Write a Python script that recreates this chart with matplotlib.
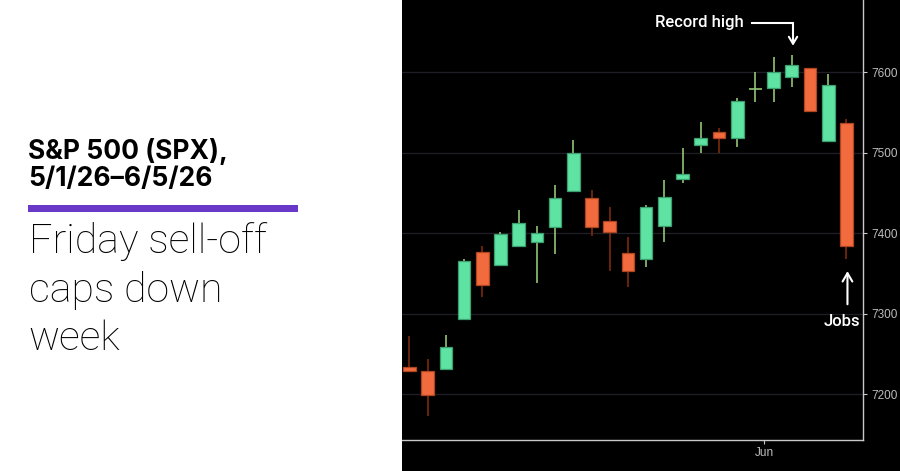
import matplotlib
matplotlib.use("Agg")
import matplotlib.pyplot as plt
from matplotlib.patches import Rectangle

# ---- data ----
dates = ["5/1", "5/4", "5/5", "5/6", "5/7", "5/8", "5/11", "5/12", "5/13", "5/14",
         "5/15", "5/18", "5/19", "5/20", "5/21", "5/22", "5/26", "5/27", "5/28", "5/29",
         "6/1", "6/2", "6/3", "6/4", "6/5"]
opens = [7234.3, 7228.6, 7231.8, 7293.2, 7376.8, 7361.0, 7384.6, 7389.6, 7407.8, 7452.9,
         7443.9, 7414.9, 7375.5, 7367.7, 7409.0, 7467.5, 7510.0, 7525.5, 7518.8, 7579.3,
         7580.9, 7594.5, 7605.0, 7515.0, 7537.0]
closes = [7228.6, 7199.1, 7258.7, 7365.2, 7335.8, 7399.1, 7412.4, 7400.4, 7443.9, 7500.1,
          7407.8, 7402.0, 7353.2, 7433.0, 7445.1, 7473.7, 7518.4, 7518.8, 7564.0, 7579.3,
          7600.4, 7609.0, 7551.6, 7584.2, 7383.9]
highs = [7272.4, 7243.8, 7273.6, 7368.0, 7384.2, 7401.6, 7428.6, 7409.0, 7460.0, 7515.9,
         7453.8, 7433.0, 7395.4, 7435.2, 7466.2, 7506.3, 7538.3, 7530.4, 7568.0, 7600.0,
         7618.9, 7621.4, 7605.0, 7598.3, 7542.0]
lows = [7227.5, 7173.4, 7231.0, 7292.5, 7321.2, 7360.5, 7384.0, 7338.6, 7374.7, 7452.0,
        7397.0, 7353.2, 7333.7, 7358.1, 7389.6, 7462.9, 7499.8, 7499.4, 7507.6, 7563.5,
        7562.7, 7582.0, 7550.3, 7515.0, 7367.7]
yticks = [7200, 7300, 7400, 7500, 7600]
month_label = "Jun"

title_lines = ["S&P 500 (SPX),", "5/1/26\u20136/5/26"]
headline_lines = ["Friday sell-off", "caps down", "week"]

# ---- styling ----
W, H = 900, 471
GREEN = "#5ee3a3"
GREEN_EDGE = "#3c9f70"
GREEN_WICK = "#94c474"
ORANGE = "#f26b3e"
ORANGE_EDGE = "#b0461f"
ORANGE_WICK = "#7e2a0c"
AXCOL = "#c8c8c8"

fig = plt.figure(figsize=(W / 100, H / 100), dpi=100)
fig.patch.set_facecolor("white")
# black chart panel on the right
fig.add_artist(Rectangle((402 / W, 0), 1 - 402 / W, 1, transform=fig.transFigure,
                         facecolor="black", edgecolor="none", zorder=0))

ax = fig.add_axes([402 / W, (H - 440.3) / H, (863.3 - 402) / W, 440.3 / H])
ax.set_facecolor("black")

n = len(dates)
xs = list(range(n))
bw = 0.70

for i in xs:
    o, c, h, l = opens[i], closes[i], highs[i], lows[i]
    up = c >= o
    wick = GREEN_WICK if up else ORANGE_WICK
    ax.vlines(i, l, h, color=wick, linewidth=1.2, zorder=2)
    if abs(c - o) < 0.5:
        ax.hlines(o, i - bw / 2, i + bw / 2, color=GREEN_WICK, linewidth=1.2, zorder=3)
    else:
        ax.bar(i, abs(c - o), bottom=min(o, c), width=bw,
               color=GREEN if up else ORANGE,
               edgecolor=GREEN_EDGE if up else ORANGE_EDGE, linewidth=0.9, zorder=3)

ax.set_xlim(-0.41, 24.93)
ax.set_ylim(7142.9, 7689.8)

# gridlines
ax.set_yticks(yticks)
ax.yaxis.grid(True, color="#1e1e24", linewidth=1.0, zorder=1)
ax.xaxis.grid(False)
ax.yaxis.tick_right()
ax.tick_params(axis="y", colors=AXCOL, labelcolor="#bdbdbd", length=3, width=0.8,
               labelsize=8.5, pad=3)
for lab in ax.get_yticklabels():
    lab.set_fontfamily("Liberation Sans")

# month tick between last May and first June session
first_jun = next(i for i, d in enumerate(dates) if d.startswith("6/"))
ax.set_xticks([first_jun - 0.5])
ax.set_xticklabels([month_label], fontfamily="Liberation Sans", fontsize=8.5)
ax.tick_params(axis="x", colors=AXCOL, labelcolor="#bdbdbd", length=3, width=0.8, pad=2)

for s in ["top", "left"]:
    ax.spines[s].set_visible(False)
for s in ["bottom", "right"]:
    ax.spines[s].set_color(AXCOL)
    ax.spines[s].set_linewidth(1.0)

# annotations
rh_i = 21
ax.plot([18.76, rh_i + 0.07, rh_i + 0.07], [7661.6, 7661.6, 7640], color="white",
        linewidth=1.5, zorder=5, solid_capstyle="butt", solid_joinstyle="miter")
ax.annotate("", xy=(rh_i + 0.07, 7629.5), xytext=(rh_i + 0.07, 7645),
            arrowprops=dict(arrowstyle="->,head_length=0.5,head_width=0.3",
                            color="white", lw=1.5), zorder=5)
ax.text(18.38, 7661.6, "Record high", color="white", fontsize=12, fontweight="medium",
        fontfamily="Roboto", ha="right", va="center", zorder=5)

jobs_i = 24
ax.annotate("", xy=(jobs_i + 0.06, 7356.5), xytext=(jobs_i + 0.06, 7308.4),
            arrowprops=dict(arrowstyle="->,head_length=0.6,head_width=0.35",
                            color="white", lw=1.5), zorder=5)
ax.text(jobs_i - 0.25, 7290, "Jobs", color="white", fontsize=12, fontweight="medium",
        fontfamily="Roboto", ha="center", va="center", zorder=5)

# left panel text
for txt, base in zip(title_lines, [159.3, 186.0]):
    fig.text(28 / W, (H - base) / H, txt, fontsize=19, fontweight="bold",
             fontfamily=["Inter", "Roboto"], color="black", va="baseline", ha="left")
fig.add_artist(Rectangle((28 / W, (H - 211.7) / H), (297.7 - 28) / W, 6.7 / H,
                         transform=fig.transFigure, facecolor="#6a38c8",
                         edgecolor="none"))
for txt, base in zip(headline_lines, [253.3, 301.5, 350.0]):
    fig.text(28.5 / W, (H - base) / H, txt, fontsize=29.5, fontweight="light",
             fontfamily="Roboto", color="black", va="baseline", ha="left")

fig.savefig("out.png", dpi=100, facecolor=fig.get_facecolor())
